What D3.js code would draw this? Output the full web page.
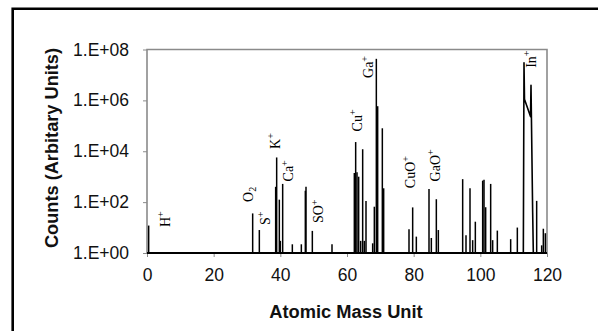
<!DOCTYPE html>
<html>
<head>
<meta charset="utf-8">
<script src="https://cdn.jsdelivr.net/npm/d3@7/dist/d3.min.js"></script>
<style>
  html, body { margin: 0; padding: 0; background: #fff; }
  svg { display: block; }
</style>
</head>
<body>
<svg id="chart" width="598" height="331"></svg>
<script>
// ---- data ----
const xTicks = [0, 20, 40, 60, 80, 100, 120];
const yTicks = [1, 1e2, 1e4, 1e6, 1e8];
const yTickLabels = ["1.E+00", "1.E+02", "1.E+04", "1.E+06", "1.E+08"];

// isolated spectral lines (mass, counts)
const peakMass = [0.5, 31.7, 33.7, 38.6, 38.9, 39.7, 40.0, 40.7, 43.6, 46.3, 47.5, 47.7, 49.6, 55.5,
  62.2, 62.6, 63.0, 63.5, 64.1, 64.7, 65.2, 65.7, 67.7, 68.2, 68.8, 69.2, 70.6, 71.0,
  78.6, 79.7, 80.8, 84.6, 85.3, 86.8, 87.4,
  94.7, 95.7, 96.9, 97.7, 98.5, 100.7, 101.1, 101.6, 103.1, 103.7, 105.1, 109.1, 111.1,
  116.9, 118.4, 118.9, 119.5];
const peakCounts = [12, 36, 8, 400, 5700, 125, 3, 520, 2.2, 2.2, 280, 400, 7.4, 2.2,
  1400, 23000, 1500, 1000, 3, 12000, 3, 110, 2.4, 66, 4.3e7, 5.9e5, 8e4, 350,
  8.5, 62, 4.4, 330, 3.9, 130, 8,
  800, 5, 350, 3.2, 17, 700, 760, 63, 520, 3.2, 7.6, 3.5, 10,
  112, 2, 9, 6];

// indium multiplet trace
const inMass = [112.9, 113.1, 113.25, 115.05, 115.2, 115.7, 115.9];
const inCounts = [1, 3e7, 1.1e6, 2.3e5, 3.9e6, 40, 1];

// peak labels
const labelText = ["H", "O", "S", "K", "Ca", "SO", "Cu", "Ga", "CuO", "GaO", "In"];
const labelSup = ["+", "", "+", "+", "+", "+", "+", "+", "+", "+", "+"];
const labelSub = ["", "2", "", "", "", "", "", "", "", "", ""];
const labelMass = [5.4, 30.4, 35.4, 38.4, 42.4, 51.4, 62.9, 66.4, 78.9, 86.4, 115.1];
const labelCount = [10.5, 102, 12.6, 12300, 650, 15, 60000, 7.6e6, 355, 650, 1.9e7];

// ---- layout ----
const svg = d3.select("#chart");
const L = 147, R = 547, T = 49.5, B = 253;

const x = d3.scaleLinear().domain([0, 120]).range([L, R]);
const y = d3.scaleLog().domain([1, 1e8]).range([B, T]);

// outer border
svg.append("path")
  .attr("d", `M12.7,331 L12.7,8.7 L598,8.7`)
  .attr("fill", "none").attr("stroke", "#000").attr("stroke-width", 2.6);

// plot frame (grey)
svg.append("path")
  .attr("d", `M${L},${B} L${L},${T} L${R},${T} L${R},${B}`)
  .attr("fill", "none").attr("stroke", "#8a8a8a").attr("stroke-width", 1.6);

// y axis ticks + labels
const yAxis = d3.axisLeft(y).tickValues(yTicks).tickSize(4).tickPadding(14)
  .tickFormat((d, i) => yTickLabels[i]);
const gy = svg.append("g").attr("transform", `translate(${L},0)`).call(yAxis);
gy.select(".domain").remove();
gy.selectAll(".tick line").attr("stroke", "#8a8a8a").attr("stroke-width", 1);
gy.selectAll(".tick text")
  .attr("font-family", "'Liberation Sans', Arial, sans-serif")
  .attr("font-size", 17.5).attr("fill", "#111");

// x axis ticks + labels
const xAxis = d3.axisBottom(x).tickValues(xTicks).tickSize(4).tickPadding(12);
const gx = svg.append("g").attr("transform", `translate(0,${B})`).call(xAxis);
gx.select(".domain").remove();
gx.selectAll(".tick line").attr("stroke", "#8a8a8a").attr("stroke-width", 1);
gx.selectAll(".tick text")
  .attr("font-family", "'Liberation Sans', Arial, sans-serif")
  .attr("font-size", 17.5).attr("fill", "#111");

// spectral lines
svg.append("g").selectAll("line").data(peakMass).join("line")
  .attr("x1", d => x(d)).attr("x2", d => x(d))
  .attr("y1", y(1)).attr("y2", (d, i) => y(peakCounts[i]))
  .attr("stroke", "#000").attr("stroke-width", 1.5);

const line = d3.line().x(d => x(d[0])).y(d => y(d[1]));
svg.append("path")
  .attr("d", line(inMass.map((m, i) => [m, inCounts[i]])))
  .attr("fill", "none").attr("stroke", "#000").attr("stroke-width", 1.6)
  .attr("stroke-linejoin", "round");

// bottom axis line (black)
svg.append("line")
  .attr("x1", L).attr("x2", R).attr("y1", B).attr("y2", B)
  .attr("stroke", "#000").attr("stroke-width", 2);

// peak labels (rotated)
labelText.forEach((t, i) => {
  const px = x(labelMass[i]), py = y(labelCount[i]);
  const txt = svg.append("text")
    .attr("transform", `translate(${px},${py}) rotate(-90)`)
    .attr("dy", "0.35em")
    .attr("font-family", "'Liberation Serif', 'Times New Roman', serif")
    .attr("font-size", 14).attr("fill", "#000");
  txt.append("tspan").text(t);
  if (labelSub[i]) txt.append("tspan").attr("font-size", 10).attr("dy", "0.3em").text(labelSub[i]);
  if (labelSup[i]) txt.append("tspan").attr("font-size", 10).attr("dy", "-0.55em").text(labelSup[i]);
});

// axis titles
svg.append("text")
  .attr("x", (L + R) / 2 - 1).attr("y", 318)
  .attr("text-anchor", "middle")
  .attr("font-family", "'Liberation Sans', Arial, sans-serif")
  .attr("font-weight", "bold").attr("font-size", 18.3).attr("fill", "#111")
  .text("Atomic Mass Unit");

svg.append("text")
  .attr("transform", `translate(52,148) rotate(-90)`)
  .attr("text-anchor", "middle").attr("dy", "0.35em")
  .attr("font-family", "'Liberation Sans', Arial, sans-serif")
  .attr("font-weight", "bold").attr("font-size", 18.2).attr("fill", "#111")
  .text("Counts (Arbitary Units)");
</script>
</body>
</html>
